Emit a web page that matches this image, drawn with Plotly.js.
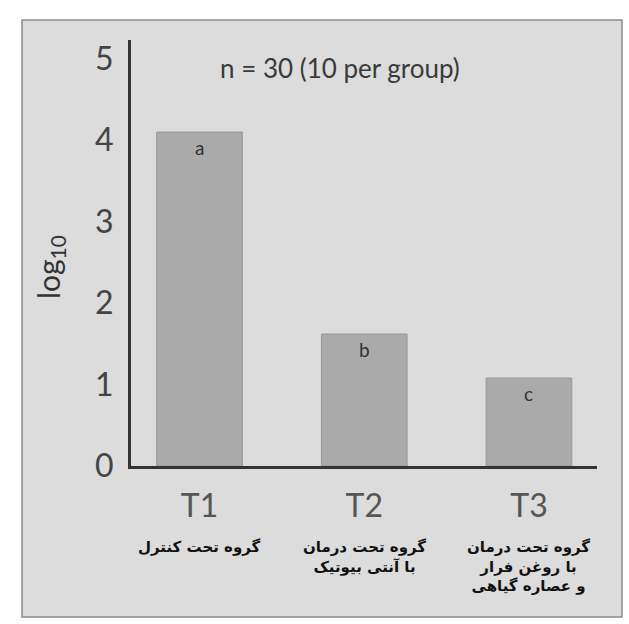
<!DOCTYPE html>
<html>
<head>
<meta charset="utf-8">
<script src="https://cdn.plot.ly/plotly-3.0.1.min.js"></script>
<style>
html,body{margin:0;padding:0;background:#ffffff;}
#chart{width:629px;height:624px;}
</style>
</head>
<body>
<div id="chart"></div>
<script>
const categories = ['T1', 'T2', 'T3'];
const values = [4.1, 1.62, 1.08];
const groupLetters = ['a', 'b', 'c'];
const groupLabels = [
  'گروه تحت کنترل',
  'گروه تحت درمان<br>با آنتی بیوتیک',
  'گروه تحت درمان<br>با روغن فرار<br>و عصاره گیاهی'
];
const yTicks = [0, 1, 2, 3, 4, 5];
const noteText = 'n = 30 (10 per group)';
const yTitle = 'log<sub>10</sub>';

const W = 629, H = 624;
const M = {l: 131, r: 32, t: 40, b: 158};
const pw = W - M.l - M.r, ph = H - M.t - M.b;
const px = p => (p - M.l) / pw;
const py = p => (H - M.b - p) / ph;

const trace = {
  type: 'bar',
  x: categories,
  y: values,
  width: 0.52,
  marker: {color: '#aaaaaa', line: {color: '#969696', width: 1}},
  hoverinfo: 'skip'
};

const annotations = [];
categories.forEach((c, i) => {
  annotations.push({
    x: c, y: values[i], xref: 'x', yref: 'y',
    text: groupLetters[i], showarrow: false,
    yanchor: 'top', yshift: -2,
    font: {family: 'Lato, sans-serif', size: 19, color: '#333333'}
  });
  annotations.push({
    x: c, y: 0, xref: 'x', yref: 'paper',
    text: '<b>' + groupLabels[i] + '</b>', showarrow: false,
    yanchor: 'top', yshift: -70, align: 'center',
    font: {family: 'DejaVu Sans, sans-serif', size: 15, color: '#111111'}
  });
});
annotations.push({
  x: px(340), y: py(68), xref: 'paper', yref: 'paper',
  text: noteText, showarrow: false, xanchor: 'center', yanchor: 'middle',
  font: {family: 'Lato, sans-serif', size: 26, color: '#3a3a3a'}
});
annotations.push({
  x: px(50), y: py(267), xref: 'paper', yref: 'paper',
  text: yTitle, showarrow: false, textangle: -90,
  xanchor: 'center', yanchor: 'middle',
  font: {family: 'Lato, sans-serif', size: 30, color: '#333333'}
});

const layout = {
  width: W, height: H,
  margin: M,
  paper_bgcolor: '#ffffff',
  plot_bgcolor: 'rgba(0,0,0,0)',
  showlegend: false,
  bargap: 0,
  xaxis: {
    type: 'category',
    range: [-0.416, 2.413],
    showgrid: false, zeroline: false,
    showline: true, linecolor: '#333333', linewidth: 3,
    ticks: '', ticklabelstandoff: 10,
    tickfont: {family: 'Lato, sans-serif', size: 32, color: '#555555'}
  },
  yaxis: {
    range: [0, 5.23],
    tickvals: yTicks,
    ticktext: yTicks.map(String),
    showgrid: false, zeroline: false,
    showline: true, linecolor: '#333333', linewidth: 3,
    ticks: '', ticklabelstandoff: 8,
    tickfont: {family: 'Lato, sans-serif', size: 32, color: '#444444'}
  },
  shapes: [{
    type: 'rect', xref: 'paper', yref: 'paper', layer: 'below',
    x0: px(22), x1: px(622), y0: py(617), y1: py(20),
    fillcolor: '#dcdcdc', line: {color: '#8a8a8a', width: 1.5}
  }],
  annotations: annotations
};

Plotly.newPlot('chart', [trace], layout, {displayModeBar: false, staticPlot: true});
</script>
</body>
</html>
